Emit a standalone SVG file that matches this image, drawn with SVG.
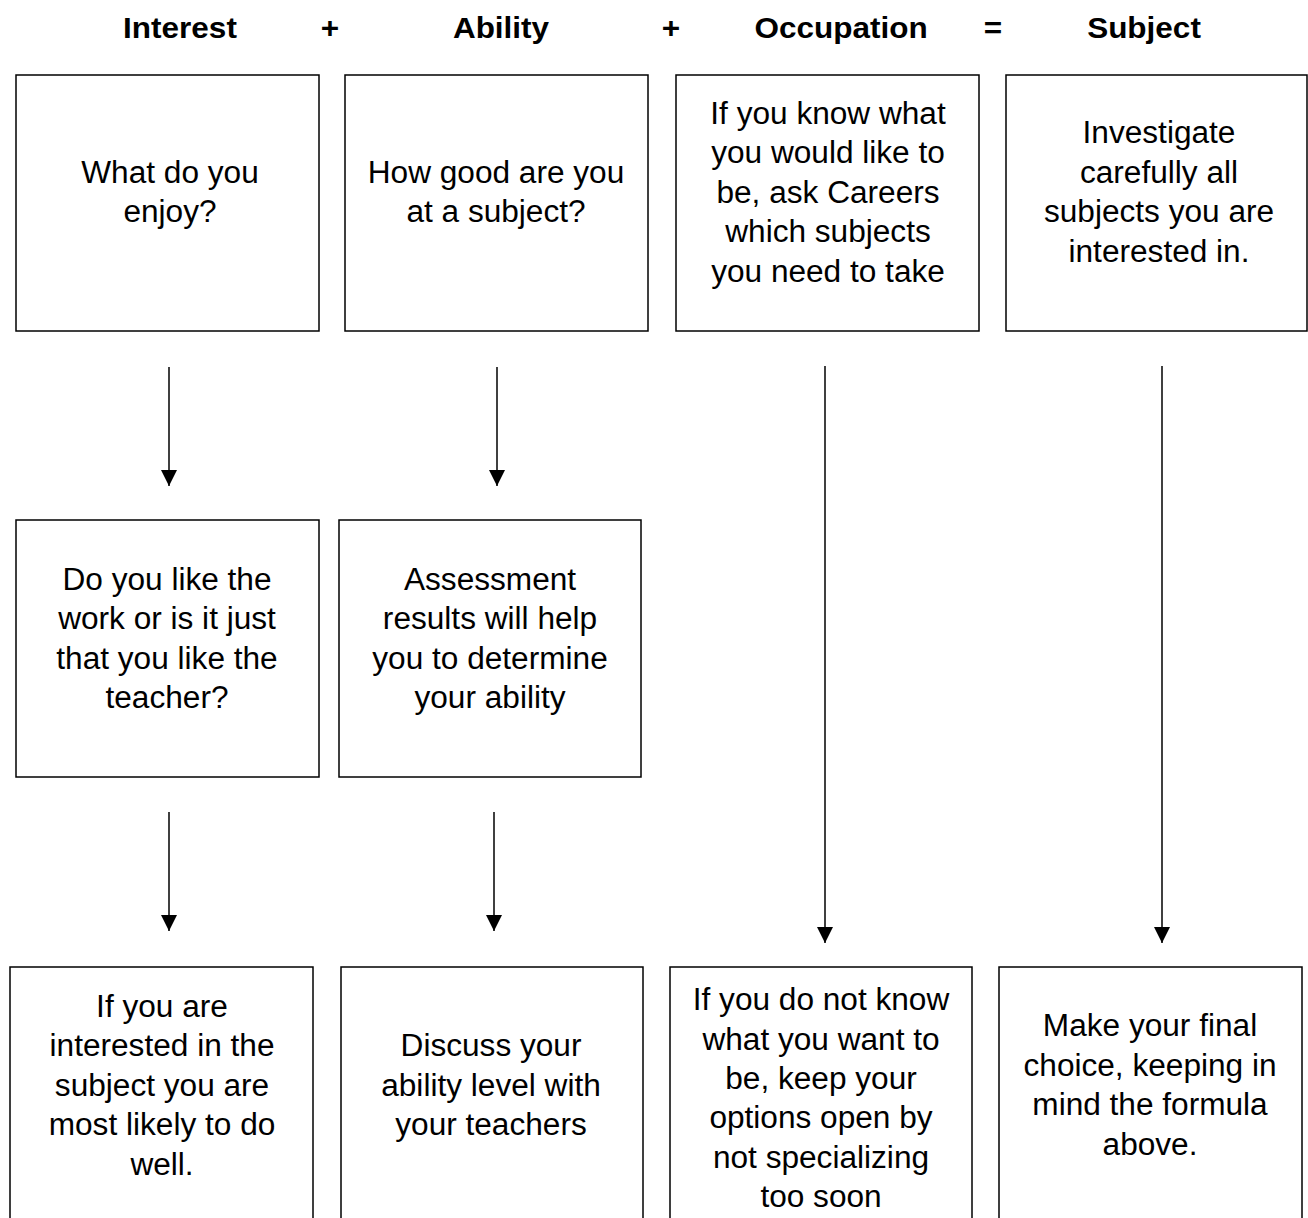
<svg xmlns="http://www.w3.org/2000/svg" width="1308" height="1218" viewBox="0 0 1308 1218">
<defs>
<style>
.box{fill:#fff;stroke:#000;stroke-width:1.5}
.t{font-family:"Liberation Sans",Arial,sans-serif;font-size:31px;fill:#000;text-anchor:middle}
.h{font-family:"Liberation Sans",Arial,sans-serif;font-size:30px;font-weight:bold;fill:#000;text-anchor:middle}
.ln{stroke:#000;stroke-width:1.5;fill:none}
</style>
<marker id="ah" viewBox="0 0 16 16" refX="16" refY="8" markerWidth="16" markerHeight="16" markerUnits="userSpaceOnUse" orient="auto">
<path d="M0,0 L16,8 L0,16 Z" fill="#000"/>
</marker>
</defs>
<rect width="1308" height="1218" fill="#fff"/>
<g id="header">
<text class="h" transform="translate(180 0) scale(1.05 1)" x="0" y="38">Interest</text>
<text class="h" transform="translate(330 0) scale(1.05 1)" x="0" y="38">+</text>
<text class="h" transform="translate(501 0) scale(1.05 1)" x="0" y="38">Ability</text>
<text class="h" transform="translate(671 0) scale(1.05 1)" x="0" y="38">+</text>
<text class="h" transform="translate(841 0) scale(1.05 1)" x="0" y="38">Occupation</text>
<text class="h" transform="translate(993 0) scale(1.05 1)" x="0" y="38">=</text>
<text class="h" transform="translate(1144 0) scale(1.05 1)" x="0" y="38">Subject</text>
</g>
<g id="n1">
<rect class="box" x="16" y="75" width="303" height="256"/>
<text class="t" transform="translate(170 0) scale(1.02 1)"><tspan x="0" y="183">What do you</tspan><tspan x="0" y="222.5">enjoy?</tspan></text>
</g>
<g id="n2">
<rect class="box" x="345" y="75" width="303" height="256"/>
<text class="t" transform="translate(496 0) scale(1.02 1)"><tspan x="0" y="183">How good are you</tspan><tspan x="0" y="222.5">at a subject?</tspan></text>
</g>
<g id="n3">
<rect class="box" x="676" y="75" width="303" height="256"/>
<text class="t" transform="translate(828 0) scale(1.02 1)"><tspan x="0" y="124">If you know what</tspan><tspan x="0" y="163.5">you would like to</tspan><tspan x="0" y="203">be, ask Careers</tspan><tspan x="0" y="242.5">which subjects</tspan><tspan x="0" y="282">you need to take</tspan></text>
</g>
<g id="n4">
<rect class="box" x="1006" y="75" width="301" height="256"/>
<text class="t" transform="translate(1159 0) scale(1.02 1)"><tspan x="0" y="143.5">Investigate</tspan><tspan x="0" y="183">carefully all</tspan><tspan x="0" y="222.5">subjects you are</tspan><tspan x="0" y="262">interested in.</tspan></text>
</g>
<g id="n5">
<rect class="box" x="16" y="520" width="303" height="257"/>
<text class="t" transform="translate(167 0) scale(1.02 1)"><tspan x="0" y="590">Do you like the</tspan><tspan x="0" y="629.5">work or is it just</tspan><tspan x="0" y="669">that you like the</tspan><tspan x="0" y="708.5">teacher?</tspan></text>
</g>
<g id="n6">
<rect class="box" x="339" y="520" width="302" height="257"/>
<text class="t" transform="translate(490 0) scale(1.02 1)"><tspan x="0" y="590">Assessment</tspan><tspan x="0" y="629.5">results will help</tspan><tspan x="0" y="669">you to determine</tspan><tspan x="0" y="708.5">your ability</tspan></text>
</g>
<g id="n7">
<rect class="box" x="10" y="967" width="303" height="280"/>
<text class="t" transform="translate(162 0) scale(1.02 1)"><tspan x="0" y="1017">If you are</tspan><tspan x="0" y="1056.5">interested in the</tspan><tspan x="0" y="1096">subject you are</tspan><tspan x="0" y="1135.5">most likely to do</tspan><tspan x="0" y="1175">well.</tspan></text>
</g>
<g id="n8">
<rect class="box" x="341" y="967" width="302" height="280"/>
<text class="t" transform="translate(491 0) scale(1.02 1)"><tspan x="0" y="1056.5">Discuss your</tspan><tspan x="0" y="1096">ability level with</tspan><tspan x="0" y="1135.5">your teachers</tspan></text>
</g>
<g id="n9">
<rect class="box" x="670" y="967" width="302" height="280"/>
<text class="t" transform="translate(821 0) scale(1.02 1)"><tspan x="0" y="1010">If you do not know</tspan><tspan x="0" y="1049.5">what you want to</tspan><tspan x="0" y="1089">be, keep your</tspan><tspan x="0" y="1128.5">options open by</tspan><tspan x="0" y="1168">not specializing</tspan><tspan x="0" y="1207.5">too soon</tspan></text>
</g>
<g id="n10">
<rect class="box" x="999" y="967" width="303" height="280"/>
<text class="t" transform="translate(1150 0) scale(1.02 1)"><tspan x="0" y="1036.5">Make your final</tspan><tspan x="0" y="1076">choice, keeping in</tspan><tspan x="0" y="1115.5">mind the formula</tspan><tspan x="0" y="1155">above.</tspan></text>
</g>
<g id="connectors">
<line class="ln" x1="169" y1="367" x2="169" y2="486" marker-end="url(#ah)"/>
<line class="ln" x1="497" y1="367" x2="497" y2="486" marker-end="url(#ah)"/>
<line class="ln" x1="169" y1="812" x2="169" y2="931" marker-end="url(#ah)"/>
<line class="ln" x1="494" y1="812" x2="494" y2="931" marker-end="url(#ah)"/>
<line class="ln" x1="825" y1="366" x2="825" y2="943" marker-end="url(#ah)"/>
<line class="ln" x1="1162" y1="366" x2="1162" y2="943" marker-end="url(#ah)"/>
</g>
</svg>
